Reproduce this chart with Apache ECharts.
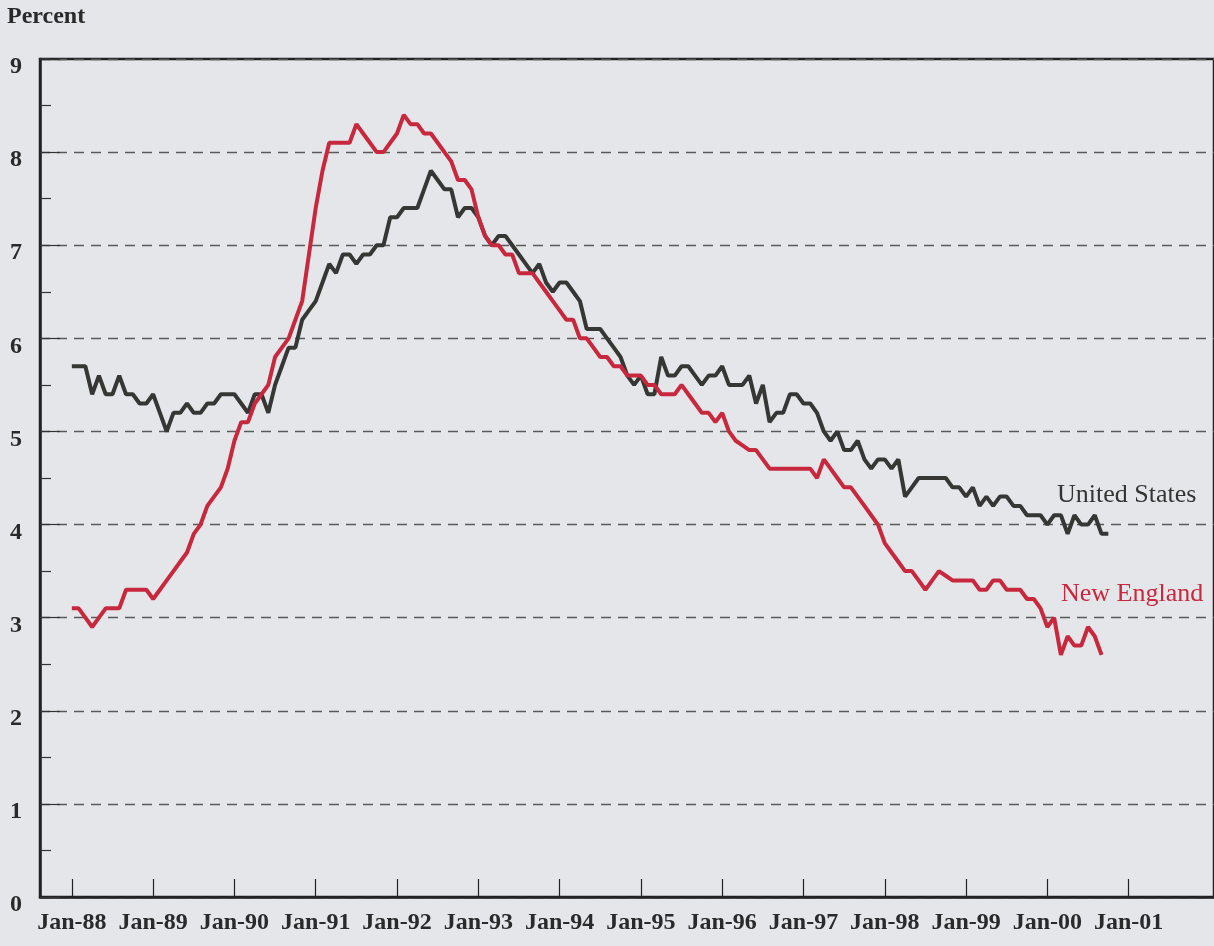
<!DOCTYPE html>
<html><head><meta charset="utf-8">
<script src="https://cdn.jsdelivr.net/npm/echarts@6/dist/echarts.min.js"></script>
<style>html,body{margin:0;padding:0;background:#e5e6ea;}#chart{width:1214px;height:946px;}</style>
</head><body><div id="chart"></div>
<script>
// Month index 0 = Jan-88
const tickMonths = [0,12,24,36,48,60,72,84,96,108,120,132,144,156];
const tickLabels = ['Jan-88','Jan-89','Jan-90','Jan-91','Jan-92','Jan-93','Jan-94','Jan-95','Jan-96','Jan-97','Jan-98','Jan-99','Jan-00','Jan-01'];

// United States unemployment rate, monthly Jan-88 .. Oct-00
const usValues = [
  5.7,5.7,5.7,5.4,5.6,5.4,5.4,5.6,5.4,5.4,5.3,5.3,
  5.4,5.2,5.0,5.2,5.2,5.3,5.2,5.2,5.3,5.3,5.4,5.4,
  5.4,5.3,5.2,5.4,5.4,5.2,5.5,5.7,5.9,5.9,6.2,6.3,
  6.4,6.6,6.8,6.7,6.9,6.9,6.8,6.9,6.9,7.0,7.0,7.3,
  7.3,7.4,7.4,7.4,7.6,7.8,7.7,7.6,7.6,7.3,7.4,7.4,
  7.3,7.1,7.0,7.1,7.1,7.0,6.9,6.8,6.7,6.8,6.6,6.5,
  6.6,6.6,6.5,6.4,6.1,6.1,6.1,6.0,5.9,5.8,5.6,5.5,
  5.6,5.4,5.4,5.8,5.6,5.6,5.7,5.7,5.6,5.5,5.6,5.6,
  5.7,5.5,5.5,5.5,5.6,5.3,5.5,5.1,5.2,5.2,5.4,5.4,
  5.3,5.3,5.2,5.0,4.9,5.0,4.8,4.8,4.9,4.7,4.6,4.7,
  4.7,4.6,4.7,4.3,4.4,4.5,4.5,4.5,4.5,4.5,4.4,4.4,
  4.3,4.4,4.2,4.3,4.2,4.3,4.3,4.2,4.2,4.1,4.1,4.1,
  4.0,4.1,4.1,3.9,4.1,4.0,4.0,4.1,3.9,3.9
];

// New England unemployment rate, monthly Jan-88 .. Sep-00
const neValues = [
  3.1,3.1,3.0,2.9,3.0,3.1,3.1,3.1,3.3,3.3,3.3,3.3,
  3.2,3.3,3.4,3.5,3.6,3.7,3.9,4.0,4.2,4.3,4.4,4.6,
  4.9,5.1,5.1,5.3,5.4,5.5,5.8,5.9,6.0,6.2,6.4,6.9,
  7.4,7.8,8.1,8.1,8.1,8.1,8.3,8.2,8.1,8.0,8.0,8.1,
  8.2,8.4,8.3,8.3,8.2,8.2,8.1,8.0,7.9,7.7,7.7,7.6,
  7.3,7.1,7.0,7.0,6.9,6.9,6.7,6.7,6.7,6.6,6.5,6.4,
  6.3,6.2,6.2,6.0,6.0,5.9,5.8,5.8,5.7,5.7,5.6,5.6,
  5.6,5.5,5.5,5.4,5.4,5.4,5.5,5.4,5.3,5.2,5.2,5.1,
  5.2,5.0,4.9,4.85,4.8,4.8,4.7,4.6,4.6,4.6,4.6,4.6,
  4.6,4.6,4.5,4.7,4.6,4.5,4.4,4.4,4.3,4.2,4.1,4.0,
  3.8,3.7,3.6,3.5,3.5,3.4,3.3,3.4,3.5,3.45,3.4,3.4,
  3.4,3.4,3.3,3.3,3.4,3.4,3.3,3.3,3.3,3.2,3.2,3.1,
  2.9,3.0,2.6,2.8,2.7,2.7,2.9,2.8,2.6
];

const FONT = '"Liberation Serif", "Times New Roman", serif';
const toPoints = vals => vals.map((v, i) => [i, v]);

const chart = echarts.init(document.getElementById('chart'), null, {renderer: 'canvas'});
chart.setOption({
  animation: false,
  backgroundColor: '#e5e6ea',
  grid: {left: 40, top: 59, right: -6, bottom: 49, show: true, borderColor: '#222', borderWidth: 2.5, backgroundColor: 'transparent'},
  xAxis: {
    type: 'value', min: -4.7, max: 168.6,
    axisLine: {show: true, onZero: false, lineStyle: {color: '#222', width: 2.5}},
    axisTick: {show: true, inside: true, length: 18, customValues: tickMonths, lineStyle: {color: '#222', width: 1.2}},
    axisLabel: {
      customValues: tickMonths,
      formatter: v => tickLabels[tickMonths.indexOf(v)] || '',
      fontFamily: FONT, fontWeight: 'bold', fontSize: 24, color: '#2a2a2a', margin: 14
    },
    splitLine: {show: false}
  },
  yAxis: {
    type: 'value', min: 0, max: 9, interval: 1,
    axisLine: {show: true, onZero: false, lineStyle: {color: '#222', width: 2.5}},
    axisTick: {show: true, inside: true, length: 20, lineStyle: {color: '#333', width: 1.2}},
    minorTick: {show: true, splitNumber: 2, length: 11, lineStyle: {color: '#333', width: 1.2}},
    axisLabel: {fontFamily: FONT, fontWeight: 'bold', fontSize: 24, color: '#2a2a2a', margin: 18, verticalAlign: 'top', lineHeight: 16},
    splitLine: {show: true, lineStyle: {color: '#5a5a5a', width: 1.3, type: [10, 7]}}
  },
  series: [
    {name: 'United States', type: 'line', data: toPoints(usValues), showSymbol: false, symbol: 'none',
     lineStyle: {color: '#363634', width: 4}, z: 3},
    {name: 'New England', type: 'line', data: toPoints(neValues), showSymbol: false, symbol: 'none',
     lineStyle: {color: '#c8283d', width: 4}, z: 4}
  ],
  graphic: [
    {type: 'text', left: 7, top: 5, style: {text: 'Percent', font: 'bold 24px ' + FONT, fill: '#2a2a2a'}},
    {type: 'text', left: 1057, top: 482, style: {text: 'United States', font: '26px ' + FONT, fill: '#333331'}},
    {type: 'text', left: 1061, top: 581, style: {text: 'New England', font: '26px ' + FONT, fill: '#c8283d'}}
  ]
});
</script></body></html>
